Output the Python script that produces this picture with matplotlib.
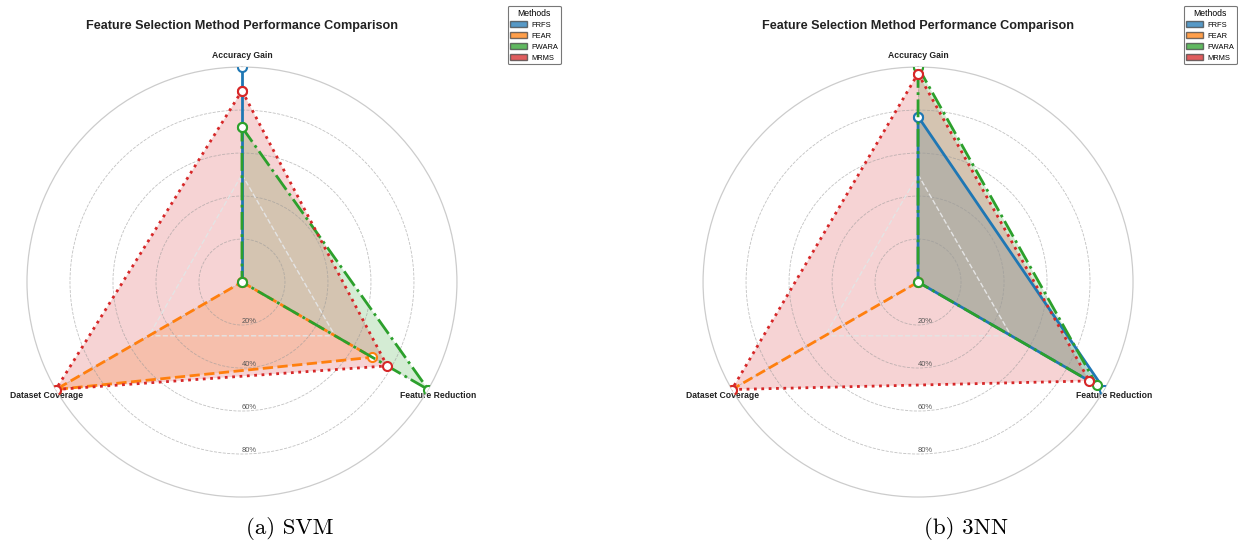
import numpy as np
import matplotlib
matplotlib.use("Agg")
import matplotlib.pyplot as plt
from matplotlib.patches import Patch

# ── data ──────────────────────────────────────────────────────────────────────
categories = ["Accuracy Gain", "Feature Reduction", "Dataset Coverage"]
methods = ["FRFS", "FEAR", "FWARA", "MRMS"]

# normalised scores, one value per category
svm_frfs = [1.00, 0.00, 0.00]
svm_fear = [0.00, 0.70, 1.00]
svm_fwara = [0.72, 1.00, 0.00]
svm_mrms = [0.89, 0.78, 1.00]

knn_frfs = [0.77, 1.00, 0.00]
knn_fear = [0.00, 0.00, 1.00]
knn_fwara = [1.00, 0.96, 0.00]
knn_mrms = [0.97, 0.92, 1.00]

rticks = [0.2, 0.4, 0.6, 0.8]
rtick_labels = ["20%", "40%", "60%", "80%"]
captions = ["(a) SVM", "(b) 3NN"]
# ──────────────────────────────────────────────────────────────────────────────

colors = ["#1f77b4", "#ff7f0e", "#2ca02c", "#d62728"]
styles = ["-", "--", "-.", ":"]

plt.rcParams["font.family"] = ["Liberation Sans", "DejaVu Sans"]

fig = plt.figure(figsize=(12.38, 5.46), dpi=100)

angles = np.linspace(0, 2 * np.pi, len(categories), endpoint=False)
closed = np.append(angles, angles[0])


def outline(vals):
    """Closed outline, without zero-length steps or a retraced last edge."""
    th, r = list(closed), list(np.append(vals, vals[0]))
    pts = []
    for t, v in zip(th, r):
        xy = (round(v * np.cos(t), 6), round(v * np.sin(t), 6))
        if pts and pts[-1][2] == xy:
            continue
        pts.append((t, v, xy))
    if len(pts) == 3 and pts[0][2] == pts[-1][2]:
        pts = pts[:2]
    return [p[0] for p in pts], [p[1] for p in pts]


def radar(rect, series, caption, cap_x, legend_anchor):
    ax = fig.add_axes(rect, projection="polar")
    ax.set_theta_offset(np.pi / 2)
    ax.set_theta_direction(-1)
    ax.set_ylim(0, 1)

    ax.set_thetagrids(np.degrees(angles), categories,
                      fontsize=6.2, fontweight="bold", color="#222222")
    ax.tick_params(axis="x", pad=-2.5)
    ax.set_yticks(rticks)
    ax.set_yticklabels(rtick_labels, fontsize=5.4, color="#555555")
    ax.set_rlabel_position(180)
    ax.grid(True, linestyle="--", color="#999999", alpha=0.6, lw=0.6)
    ax.spines["polar"].set_color("#cccccc")
    ax.spines["polar"].set_linewidth(0.9)

    for vals, c, ls in zip(series, colors, styles):
        ax.fill(closed, np.append(vals, vals[0]), color=c, alpha=0.2, lw=0)
        th, r = outline(vals)
        ax.plot(th, r, color=c, ls=ls, lw=2, marker="o", ms=6.5,
                mfc="white", mec=c, mew=1.5, zorder=5)

    # reference triangle at the halfway level
    ax.plot(closed, [0.5] * len(closed), color="#e4e4e4", ls="--",
            lw=1, zorder=3)

    fig.text(rect[0] + rect[2] / 2, 0.952,
             "Feature Selection Method Performance Comparison",
             ha="center", va="center", fontsize=9.1, fontweight="bold",
             color="#222222")

    handles = [Patch(facecolor=c, edgecolor="#444444", alpha=0.75, label=m)
               for m, c in zip(methods, colors)]
    leg = fig.legend(handles=handles, title="Methods", loc="upper right",
                     bbox_to_anchor=legend_anchor, fontsize=5.4,
                     title_fontsize=6.2, frameon=True, handlelength=2.2,
                     handleheight=0.9, labelspacing=0.45, borderpad=0.35,
                     handletextpad=0.6)
    leg.get_frame().set_edgecolor("#555555")
    leg.get_frame().set_linewidth(0.8)

    fig.text(cap_x, 0.032, caption, ha="center", va="center",
             fontsize=16.5, family="cmr10")
    return ax


radar([0.0218, 0.0897, 0.3473, 0.7875],
      [svm_frfs, svm_fear, svm_fwara, svm_mrms], captions[0], 0.234,
      (0.456, 0.996))
radar([0.5679, 0.0897, 0.3473, 0.7875],
      [knn_frfs, knn_fear, knn_fwara, knn_mrms], captions[1], 0.780,
      (1.002, 0.996))

fig.savefig("out.png", dpi=100)
